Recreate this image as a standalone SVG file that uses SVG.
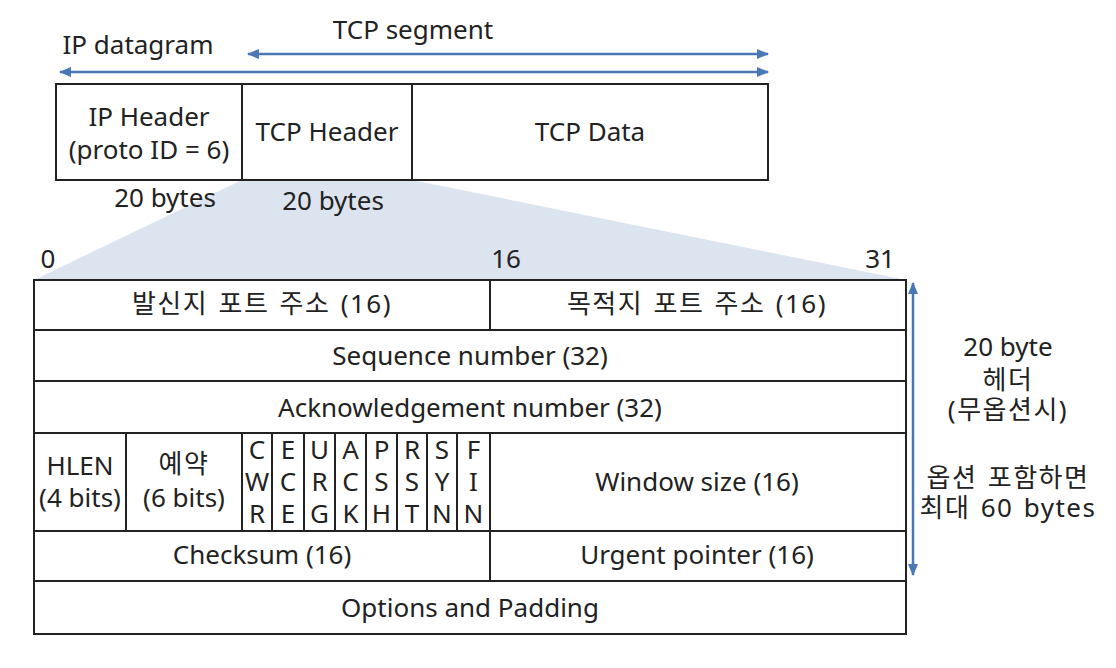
<svg xmlns="http://www.w3.org/2000/svg" width="1116" height="668" viewBox="0 0 1116 668">
<style>
text{font-family:"Noto Sans","Noto Sans CJK KR",sans-serif;font-size:26px;fill:#222;text-anchor:middle}
.ko{letter-spacing:1.5px;word-spacing:2px}
.box{fill:#fff;stroke:#222;stroke-width:2}
.arr{stroke:#4a78b5;stroke-width:2.5;fill:none}
</style>
<defs>
<marker id="ah" viewBox="0 0 12 10" refX="11" refY="5" markerWidth="12" markerHeight="10" markerUnits="userSpaceOnUse" orient="auto-start-reverse">
<path d="M0,0 L12,5 L0,10 z" fill="#4a78b5"/>
</marker>
</defs>
<rect width="1116" height="668" fill="#fff"/>
<polygon points="242,180 412,180 906,280 34,280" fill="#dce4ef"/>
<g id="connectors">
<line class="arr" x1="248" y1="54" x2="768" y2="54" marker-start="url(#ah)" marker-end="url(#ah)"/>
<line class="arr" x1="60" y1="72" x2="768" y2="72" marker-start="url(#ah)" marker-end="url(#ah)"/>
<line class="arr" x1="913" y1="283" x2="913" y2="575" marker-start="url(#ah)" marker-end="url(#ah)"/>
</g>
<g id="labels-top">
<text x="413" y="39">TCP segment</text>
<text x="138" y="54">IP datagram</text>
<text x="165" y="207">20 bytes</text>
<text x="333" y="210">20 bytes</text>
<text x="48" y="268">0</text>
<text x="506" y="268">16</text>
<text x="880" y="268">31</text>
</g>
<g id="ip-header">
<rect class="box" x="56" y="84" width="186" height="96"/>
<text x="149" y="126">IP Header</text>
<text x="149" y="159">(proto ID = 6)</text>
</g>
<g id="tcp-header">
<rect class="box" x="242" y="84" width="170" height="96"/>
<text x="327" y="141">TCP Header</text>
</g>
<g id="tcp-data">
<rect class="box" x="412" y="84" width="356" height="96"/>
<text x="590" y="141">TCP Data</text>
</g>
<g id="src-port">
<rect class="box" x="34" y="280" width="456" height="50"/>
<text class="ko" x="262" y="313">발신지 포트 주소 (16)</text>
</g>
<g id="dst-port">
<rect class="box" x="490" y="280" width="416" height="50"/>
<text class="ko" x="697" y="313">목적지 포트 주소 (16)</text>
</g>
<g id="seq">
<rect class="box" x="34" y="330" width="872" height="51"/>
<text x="470" y="365">Sequence number (32)</text>
</g>
<g id="ack">
<rect class="box" x="34" y="381" width="872" height="52"/>
<text x="470" y="417">Acknowledgement number (32)</text>
</g>
<g id="hlen">
<rect class="box" x="34" y="433" width="92" height="98"/>
<text x="80" y="475">HLEN</text>
<text x="80" y="507">(4 bits)</text>
</g>
<g id="reserved">
<rect class="box" x="126" y="433" width="116" height="98"/>
<text class="ko" x="184" y="473">예약</text>
<text x="184" y="507">(6 bits)</text>
</g>
<g id="flags">
<rect class="box" x="242" y="433" width="30" height="98"/>
<text x="257" y="459">C</text><text x="257" y="491">W</text><text x="257" y="523">R</text>
<rect class="box" x="272" y="433" width="32" height="98"/>
<text x="288" y="459">E</text><text x="288" y="491">C</text><text x="288" y="523">E</text>
<rect class="box" x="304" y="433" width="31" height="98"/>
<text x="319.5" y="459">U</text><text x="319.5" y="491">R</text><text x="319.5" y="523">G</text>
<rect class="box" x="335" y="433" width="31" height="98"/>
<text x="350.5" y="459">A</text><text x="350.5" y="491">C</text><text x="350.5" y="523">K</text>
<rect class="box" x="366" y="433" width="31" height="98"/>
<text x="381.5" y="459">P</text><text x="381.5" y="491">S</text><text x="381.5" y="523">H</text>
<rect class="box" x="397" y="433" width="30" height="98"/>
<text x="412" y="459">R</text><text x="412" y="491">S</text><text x="412" y="523">T</text>
<rect class="box" x="427" y="433" width="30" height="98"/>
<text x="442" y="459">S</text><text x="442" y="491">Y</text><text x="442" y="523">N</text>
<rect class="box" x="457" y="433" width="33" height="98"/>
<text x="473.5" y="459">F</text><text x="473.5" y="491">I</text><text x="473.5" y="523">N</text>
</g>
<g id="window">
<rect class="box" x="490" y="433" width="416" height="98"/>
<text x="697" y="491">Window size (16)</text>
</g>
<g id="checksum">
<rect class="box" x="34" y="531" width="456" height="50"/>
<text x="262" y="564">Checksum (16)</text>
</g>
<g id="urgent">
<rect class="box" x="490" y="531" width="416" height="50"/>
<text x="697" y="564">Urgent pointer (16)</text>
</g>
<g id="options">
<rect class="box" x="34" y="581" width="872" height="53"/>
<text x="470" y="617">Options and Padding</text>
</g>
<g id="size-note">
<text x="1008" y="356">20 byte</text>
<text class="ko" x="1008" y="389">헤더</text>
<text class="ko" x="1008" y="419">(무옵션시)</text>
<text class="ko" x="1008" y="487">옵션 포함하면</text>
<text class="ko" x="1008" y="517">최대 60 bytes</text>
</g>
</svg>
